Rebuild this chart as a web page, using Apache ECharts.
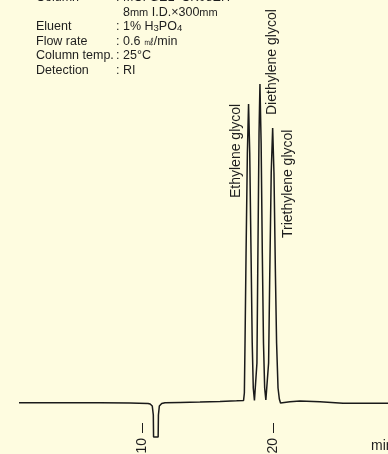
<!DOCTYPE html>
<html>
<head>
<meta charset="utf-8">
<script src="https://cdn.jsdelivr.net/npm/echarts@6/dist/echarts.min.js"></script>
<style>
html,body{margin:0;padding:0;background:#fefce0;}
#chart{width:388px;height:454px;}
</style>
</head>
<body>
<div id="chart"></div>
<script>
// Retention time (min) and detector signal (arbitrary units)
var times = [0.59, 3.72, 6.77, 9.06, 10.44, 10.60, 10.76, 10.84, 10.86, 11.21, 11.23, 11.30, 11.48, 11.73, 12.88, 14.40, 15.93, 17.20,
  17.73, 17.79, 17.84, 17.92, 18.02, 18.11, 18.20, 18.30, 18.39, 18.47, 18.56, 18.62,
  18.68, 18.75, 18.81, 18.91, 18.98, 19.07, 19.16, 19.25, 19.34, 19.43, 19.50,
  19.57, 19.64, 19.72, 19.84, 19.95, 20.05, 20.16, 20.25, 20.36, 20.46, 20.55,
  20.66, 21.27, 22.04, 23.56, 25.32, 28.76];
var signal = [0.3, 0.3, 0.3, 0.1, -0.5, -1.0, -3, -12, -34, -34, -12, -3, -0.5, 0.3, 0.6, 1.0, 1.6, 2.2,
  2.6, 10, 60, 150, 250, 299, 250, 150, 60, 15, 2.5, 1.3,
  4, 40, 130, 270, 319, 260, 150, 60, 15, 3, 2.3,
  5, 40, 120, 230, 275, 230, 130, 60, 15, 4, 0,
  -0.6, 1.2, 2.0, 1.2, -0.3, -0.3];

var tickValues = [10, 20];
var peakNames = ['Ethylene glycol', 'Diethylene glycol', 'Triethylene glycol'];
var peakLabelTimes = [17.19, 19.94, 21.12];
var peakLabelSignal = [205, 288, 165];

var conditionNames = ['Column', '', 'Eluent', 'Flow rate', 'Column temp.', 'Detection'];
var conditionValues = ['MCI GEL  CK08EH', '8{m|mm} I.D.×300{m|mm}', '1% H{s|3}PO{s|4}', '0.6 {s|㎖}/min', '25°C', 'RI'];

var FONT = '"Liberation Sans", Arial, Helvetica, sans-serif';
var INK = '#1e1e1e';

var seriesData = times.map(function (t, i) { return [t, signal[i]]; });

var chart = echarts.init(document.getElementById('chart'), null, {renderer: 'canvas'});

var option = {
  backgroundColor: '#fefce0',
  animation: false,
  grid: {left: 11.3, top: 83, width: 377.3, bottom: 31, containLabel: false, outerBoundsMode: 'none'},
  xAxis: {
    type: 'value', min: 0, max: 28.8,
    axisLine: {show: false, onZero: false},
    splitLine: {show: false},
    axisTick: {show: true, customValues: tickValues, length: 10, inside: false,
      lineStyle: {color: INK, width: 1}},
    axisLabel: {show: true, customValues: tickValues, rotate: 90, margin: 15,
      fontSize: 14, fontFamily: FONT, color: INK}
  },
  yAxis: {
    type: 'value', min: -20, max: 320, show: false, splitLine: {show: false}
  },
  series: [{
    type: 'line',
    data: seriesData,
    showSymbol: false,
    symbol: 'none',
    clip: false,
    smooth: false,
    lineStyle: {color: '#1a1a1a', width: 1.5}
  }]
};
chart.setOption(option);

var graphics = [];
// condition block
var rowY = [-2.3, 12.2, 26.7, 41.2, 55.7, 70.2];
conditionNames.forEach(function (name, i) {
  if (name) {
    graphics.push({type: 'text', x: 36, y: rowY[i],
      style: {text: name, fontSize: 12.5, fontFamily: FONT, fill: INK, verticalAlign: 'middle'}});
    graphics.push({type: 'text', x: 116, y: rowY[i],
      style: {text: ':', fontSize: 12.5, fontFamily: FONT, fill: INK, verticalAlign: 'middle'}});
  }
});
conditionValues.forEach(function (val, i) {
  graphics.push({type: 'text', x: 123, y: rowY[i],
    style: {text: val, fontSize: 12.5, fontFamily: FONT, fill: INK, verticalAlign: 'middle',
      rich: {s: {fontSize: 9.5, fontFamily: FONT, fill: INK, verticalAlign: 'bottom'},
             m: {fontSize: 11, fontFamily: FONT, fill: INK, verticalAlign: 'bottom'}}}});
});
// peak labels
peakNames.forEach(function (n, i) {
  var p = chart.convertToPixel({gridIndex: 0}, [peakLabelTimes[i], peakLabelSignal[i]]);
  graphics.push({type: 'text', x: p[0], y: p[1], rotation: Math.PI / 2,
    style: {text: n, fontSize: 14, fontFamily: FONT, fill: INK, align: 'left', verticalAlign: 'middle'}});
});
// axis unit
graphics.push({type: 'text', x: 371, y: 446.5,
  style: {text: 'min', fontSize: 14, fontFamily: FONT, fill: INK, align: 'left', verticalAlign: 'middle'}});

chart.setOption({graphic: graphics});
</script>
</body>
</html>
